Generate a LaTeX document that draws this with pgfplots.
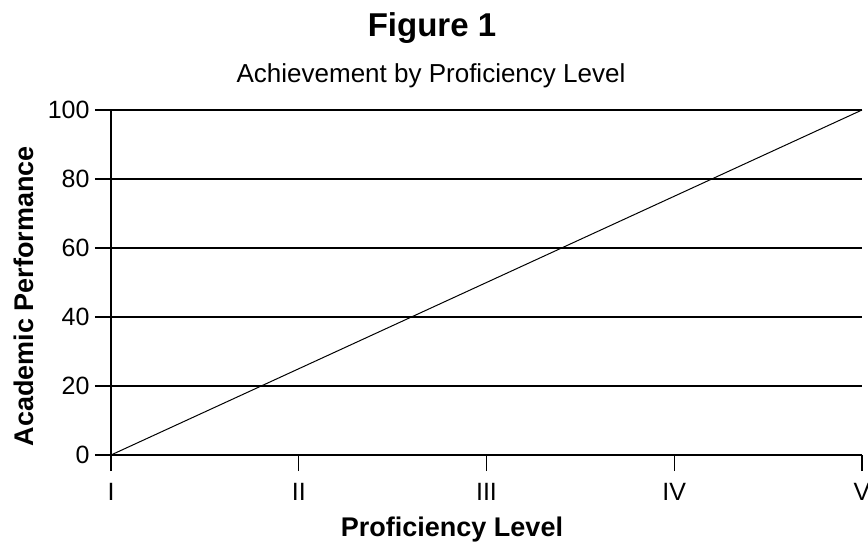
\documentclass[border=0pt]{standalone}
\usepackage{pgfplots}
\pgfplotsset{compat=1.18}
\usepackage{fontspec}
\setmainfont{Liberation Sans}
\begin{document}
\begin{tikzpicture}[x=1pt,y=1pt]
\path[use as bounding box] (0,0) rectangle (868,542);
\begin{axis}[
  at={(111pt,87pt)}, anchor=south west,
  scale only axis, width=751pt, height=345pt,
  xmin=0, xmax=4, ymin=0, ymax=100,
  axis x line*=bottom, axis y line*=left,
  axis line style={-, line width=1.5pt, black},
  xtick={0,1,2,3,4}, xticklabels={I,II,III,IV,V},
  ytick={0,20,40,60,80,100},
  tick align=outside, major tick length=16pt,
  tick style={line width=1.3pt, black},
  ymajorgrids, grid style={line width=1.3pt, black},
  /pgf/number format/assume math mode=true,
  tick label style={font=\fontsize{25}{29}\selectfont},
  yticklabel style={xshift=-2pt},
  xticklabel style={yshift=-9pt},
  clip=false,
]
\addplot[black, line width=1pt, mark=none] coordinates {(0,0) (1,25) (2,50) (3,75) (4,100)};
\end{axis}
\node[anchor=base, font=\fontsize{33}{38}\selectfont\bfseries] at (432,505) {Figure 1};
\node[anchor=base, font=\fontsize{26}{30}\selectfont] at (431,459) {Achievement by Proficiency Level};
\node[anchor=base, font=\fontsize{27}{31}\selectfont\bfseries] at (452,6) {Proficiency Level};
\node[anchor=base, rotate=90, font=\fontsize{27}{31}\selectfont\bfseries] at (33,246) {Academic Performance};
\end{tikzpicture}
\end{document}
